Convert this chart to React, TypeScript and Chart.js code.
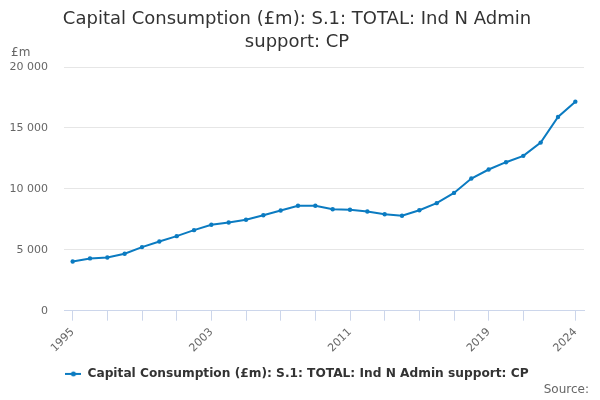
import React, { useEffect, useRef } from "react";
import { Chart, registerables } from "chart.js";

const years = [
  "1995", "1996", "1997", "1998", "1999", "2000", "2001", "2002", "2003", "2004",
  "2005", "2006", "2007", "2008", "2009", "2010", "2011", "2012", "2013", "2014",
  "2015", "2016", "2017", "2018", "2019", "2020", "2021", "2022", "2023", "2024",
];

const capitalConsumption = [
  4040, 4290, 4370, 4670, 5220, 5680, 6120, 6610, 7050, 7240,
  7460, 7840, 8220, 8610, 8610, 8330, 8280, 8140, 7920, 7790,
  8250, 8830, 9670, 10850, 11590, 12190, 12710, 13800, 15900, 17160,
];

const shownYears = ["1995", "2003", "2011", "2019", "2024"];
const yTicks = [0, 5000, 10000, 15000, 20000];

const titleLines = ["Capital Consumption (£m): S.1: TOTAL: Ind N Admin", "support: CP"];
const seriesName = "Capital Consumption (£m): S.1: TOTAL: Ind N Admin support: CP";

const FONT = "'DejaVu Sans', sans-serif";
const BLUE = "#0b7bc1";

function legendSymbol() {
  const c = document.createElement("canvas");
  c.width = 16;
  c.height = 8;
  const g = c.getContext("2d")!;
  g.strokeStyle = BLUE;
  g.lineWidth = 2;
  g.beginPath();
  g.moveTo(0, 4);
  g.lineTo(16, 4);
  g.stroke();
  g.fillStyle = BLUE;
  g.beginPath();
  g.arc(8, 4, 2.5, 0, Math.PI * 2);
  g.fill();
  return c;
}

const extraText = {
  id: "extraText",
  afterDraw(chart: Chart) {
    const ctx = chart.ctx;
    ctx.save();
    ctx.fillStyle = "#666";
    ctx.font = `12px ${FONT}`;
    ctx.textBaseline = "middle";
    ctx.textAlign = "left";
    ctx.fillText("£m", 11, 53);
    ctx.textAlign = "right";
    ctx.fillText("Source:", 589, 390);
    ctx.restore();
  },
};

export default function App() {
  const chartRef = useRef<HTMLCanvasElement | null>(null);

  useEffect(() => {
    Chart.register(...registerables);
    const ctx = chartRef.current?.getContext("2d");
    if (!ctx) return;
    const symbol = legendSymbol();

    const myChart = new Chart(ctx, {
      type: "line",
      data: {
        labels: years,
        datasets: [
          {
            label: seriesName,
            data: capitalConsumption,
            borderColor: BLUE,
            backgroundColor: BLUE,
            borderWidth: 2,
            pointRadius: 2.2,
            pointBorderWidth: 0,
            pointHoverRadius: 3,
            tension: 0,
            fill: false,
          },
        ],
      },
      options: {
        animation: false,
        responsive: true,
        maintainAspectRatio: false,
        layout: { padding: { left: 10, right: 16, top: 0, bottom: 10 } },
        plugins: {
          title: {
            display: true,
            text: titleLines,
            color: "#333",
            font: { family: FONT, size: 18, weight: "normal", lineHeight: 1.28 },
            padding: { top: 8, bottom: 13 },
          },
          legend: {
            position: "bottom",
            labels: {
              color: "#333",
              font: { family: FONT, size: 12.2, weight: "bold" },
              usePointStyle: true,
              pointStyleWidth: 16,
              padding: 8,
              generateLabels: (chart: Chart) =>
                Chart.defaults.plugins.legend.labels.generateLabels(chart).map((l) => ({
                  ...l,
                  pointStyle: symbol,
                })),
            },
          },
          tooltip: { enabled: false },
        },
        scales: {
          x: {
            offset: true,
            afterFit: (axis) => {
              axis.paddingLeft = 0;
              axis.paddingRight = 0;
            },
            grid: {
              drawOnChartArea: false,
              drawTicks: true,
              tickLength: 10,
              color: "#ccd6eb",
            },
            border: { color: "#ccd6eb" },
            ticks: {
              autoSkip: false,
              maxRotation: 45,
              minRotation: 45,
              padding: 5,
              color: "#666",
              font: { family: FONT, size: 11 },
              callback: (_v, i) => {
                const y = years[i];
                if (shownYears.includes(y)) return y;
                const n = Number(y);
                if (n % 2 === 1 && n <= 2021) return "";
                return null;
              },
            },
          },
          y: {
            min: yTicks[0],
            max: yTicks[yTicks.length - 1],
            afterBuildTicks: (axis) => {
              axis.ticks = yTicks.map((v) => ({ value: v }));
            },
            afterFit: (axis) => {
              axis.width = 54;
            },
            grid: { color: "#e6e6e6", drawTicks: false },
            border: { display: false },
            ticks: {
              color: "#666",
              padding: 16,
              font: { family: FONT, size: 11 },
              callback: (v) => String(v).replace(/\B(?=(\d{3})+(?!\d))/g, " "),
            },
          },
        },
      },
      plugins: [extraText],
    });

    return () => {
      myChart.destroy();
    };
  }, []);

  return (
    <div style={{ position: "fixed", left: 0, top: 0, width: 600, height: 400, background: "#fff" }}>
      <canvas ref={chartRef}></canvas>
    </div>
  );
}
